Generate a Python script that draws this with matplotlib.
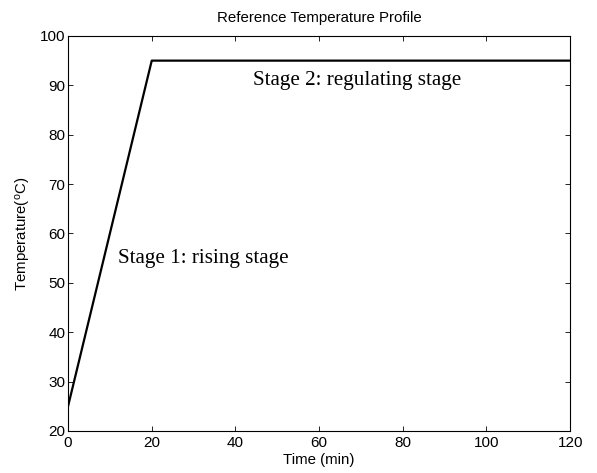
import matplotlib
matplotlib.use("Agg")
import matplotlib.pyplot as plt

# profile breakpoints
time_min = [0, 20, 120]
temp_c = [25, 95, 95]

x_ticks = [0, 20, 40, 60, 80, 100, 120]
y_ticks = [20, 30, 40, 50, 60, 70, 80, 90, 100]

plt.rcParams["font.family"] = ["Liberation Sans", "DejaVu Sans"]
plt.rcParams["mathtext.default"] = "regular"

fig = plt.figure(figsize=(5.97, 4.73), dpi=100)
ax = fig.add_axes([0.114, 0.089, 0.841, 0.835])

ax.plot(time_min, temp_c, color="black", linewidth=1.6)

ax.set_xlim(0, 120)
ax.set_ylim(20, 100)
ax.set_xticks(x_ticks)
ax.set_yticks(y_ticks)
ax.tick_params(direction="in", length=3.5, width=0.6, top=True, right=True,
               labelsize=11, pad=2)
ax.tick_params(axis="x", pad=4)
for sp in ax.spines.values():
    sp.set_linewidth(0.8)

ax.set_title("Reference Temperature Profile", fontsize=10.8, pad=10)
ax.set_xlabel("Time (min)", fontsize=10.8, labelpad=2)
ax.set_ylabel("Temperature($^{o}$C)", fontsize=10.8, labelpad=5)

ax.text(12, 55, "Stage 1: rising stage", family="Liberation Serif",
        fontsize=15.2, va="center", ha="left")
ax.text(44.3, 91, "Stage 2: regulating stage", family="Liberation Serif",
        fontsize=15.2, va="center", ha="left")

fig.savefig("out.png", dpi=100)
